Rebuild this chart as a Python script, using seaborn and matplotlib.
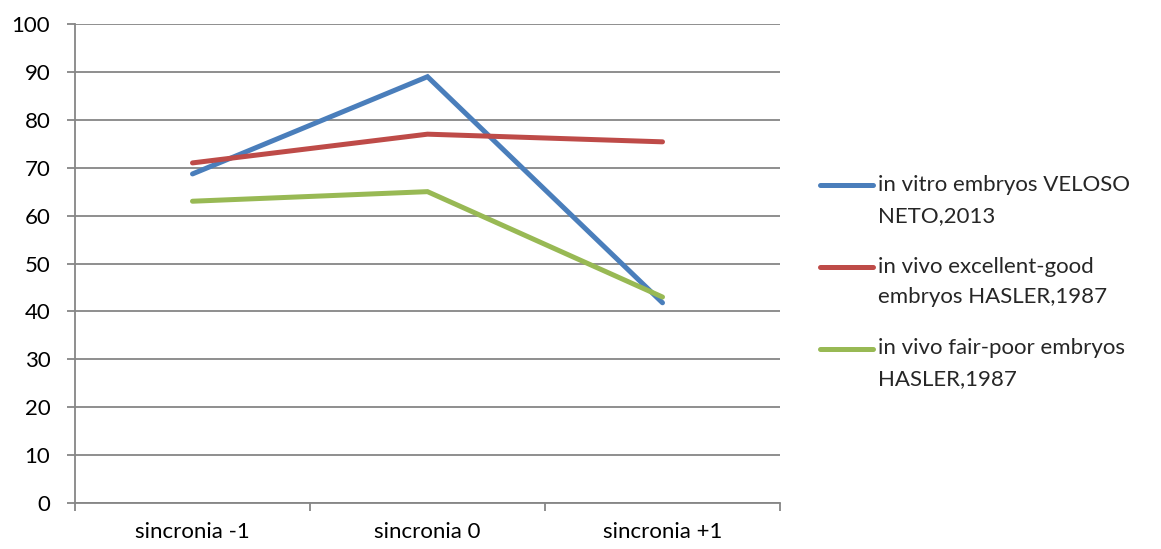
import matplotlib
matplotlib.use("Agg")
import matplotlib.pyplot as plt
from matplotlib.ticker import FixedLocator, NullFormatter
from matplotlib.legend_handler import HandlerLine2D
import seaborn as sns
import pandas as pd

categories = ["sincronia -1", "sincronia 0", "sincronia +1"]
series_names = [
    "in vitro embryos VELOSO\nNETO,2013",
    "in vivo excellent-good\nembryos HASLER,1987",
    "in vivo fair-poor embryos\nHASLER,1987",
]
in_vitro_veloso = [68.7, 89.0, 41.8]
in_vivo_excellent_good = [71.0, 77.0, 75.4]
in_vivo_fair_poor = [63.0, 65.0, 43.0]
y_ticks = list(range(0, 101, 10))

colors = ["#4A7EBB", "#BE4B48", "#98B954"]
FS = 16
LW = 3.6

rows = []
for name, vals in zip(series_names, [in_vitro_veloso, in_vivo_excellent_good, in_vivo_fair_poor]):
    for cat, v in zip(categories, vals):
        rows.append({"category": cat, "value": v, "series": name})
df = pd.DataFrame(rows)

sns.set_theme(style="white")
plt.rcParams["font.family"] = ["Lato", "DejaVu Sans"]

fig = plt.figure(figsize=(11.61, 5.49), dpi=100)
ax = fig.add_axes([75 / 1161, 1 - 503 / 549, 705 / 1161, 479 / 549])

sns.lineplot(
    data=df, x="category", y="value", hue="series",
    hue_order=series_names, palette=colors, sort=False,
    linewidth=LW, ax=ax, legend=False,
)
for line in ax.lines:
    line.set_solid_capstyle("round")
    line.set_solid_joinstyle("miter")

ax.set_xlim(-0.5, 2.5)
ax.set_ylim(0, 100)
ax.set_yticks(y_ticks)
ax.set_xticks(range(len(categories)))
ax.set_xticklabels(categories)
ax.xaxis.set_minor_locator(FixedLocator([-0.5, 0.5, 1.5, 2.5]))
ax.xaxis.set_minor_formatter(NullFormatter())

grid_color = "#868686"
ax.yaxis.grid(True, color=grid_color, linewidth=1.3)
ax.set_axisbelow(True)
for side in ["top", "right"]:
    ax.spines[side].set_visible(False)
for side in ["left", "bottom"]:
    ax.spines[side].set_color(grid_color)
    ax.spines[side].set_linewidth(1.3)

ax.tick_params(axis="y", which="major", direction="out", length=5.8, width=1.3,
               color=grid_color, pad=12, labelsize=FS, labelcolor="black", left=True)
ax.tick_params(axis="x", which="major", length=0, pad=14, labelsize=FS, labelcolor="black")
ax.tick_params(axis="x", which="minor", direction="out", length=6, width=1.3,
               color=grid_color, bottom=True)
ax.set_xlabel("")
ax.set_ylabel("")


class FirstLineHandler(HandlerLine2D):
    """Legend line drawn level with the first line of a two-line label."""

    def __init__(self, shift, **kw):
        super().__init__(**kw)
        self.shift = shift

    def create_artists(self, legend, orig_handle, xdescent, ydescent,
                       width, height, fontsize, trans):
        artists = super().create_artists(legend, orig_handle, xdescent, ydescent,
                                         width, height, fontsize, trans)
        for a in artists:
            a.set_ydata([y + self.shift for y in a.get_ydata()])
        return artists


handles = [plt.Line2D([], [], color=c, linewidth=LW, solid_capstyle="round") for c in colors]
leg = fig.legend(
    handles, series_names, loc="center left",
    bbox_to_anchor=(811 / 1161, 1 - 282 / 549),
    frameon=False, fontsize=FS, handlelength=2.4, handletextpad=0.22,
    labelspacing=1.4, borderaxespad=0,
    handler_map={plt.Line2D: FirstLineHandler(shift=11)},
)
for t in leg.get_texts():
    t.set_linespacing(1.66)

fig.savefig("out.png", dpi=100, facecolor="white")
